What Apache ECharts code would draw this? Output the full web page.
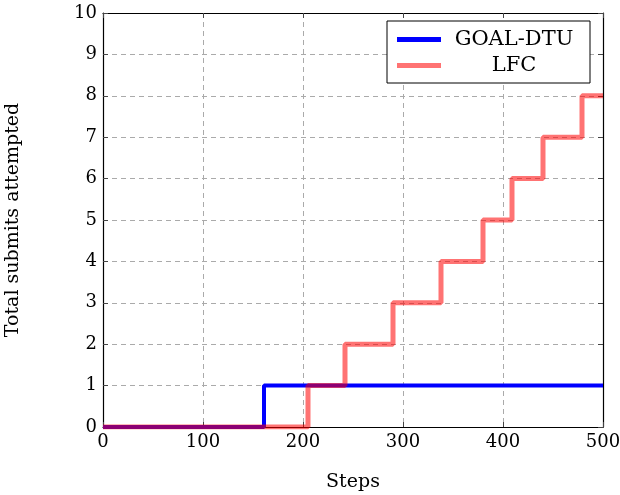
<!DOCTYPE html>
<html><head><meta charset="utf-8">
<script src="https://cdn.jsdelivr.net/npm/echarts@6/dist/echarts.min.js"></script>
<style>html,body{margin:0;padding:0;background:#fff}#c{width:620px;height:495px}</style>
</head><body><div id="c"></div>
<script>
const goalSteps = [0, 161, 500];
const goalValues = [0, 1, 1];
const lfcSteps = [0, 205, 242, 290, 338, 380, 409, 440, 479, 500];
const lfcValues = [0, 1, 2, 3, 4, 5, 6, 7, 8, 8];
const seriesNames = ['GOAL-DTU', 'LFC'];

const font = 'DejaVu Serif';
const toPairs = (xs, ys) => xs.map((x, i) => [x, ys[i]]);
const chart = echarts.init(document.getElementById('c'), null, {renderer: 'canvas'});
const gridLine = {show: true, lineStyle: {color: '#aaaaaa', type: [5, 4], width: 1}};
const frameLine = {show: true, onZero: false, lineStyle: {color: '#000', width: 1.2}};
const tick = {show: true, inside: true, length: 5, lineStyle: {color: '#444'}};
chart.setOption({
  animation: false,
  backgroundColor: '#fff',
  grid: {left: 103, right: 17, top: 13, bottom: 68, containLabel: false, outerBoundsMode: 'none'},
  legend: {
    data: seriesNames,
    orient: 'vertical',
    left: 387, top: 21,
    backgroundColor: '#fff',
    borderColor: '#000', borderWidth: 1,
    padding: [8, 8, 7, 10],
    itemGap: 5,
    itemWidth: 44, itemHeight: 5,
    icon: 'rect',
    formatter: n => '{a|' + n + '}',
    textStyle: {rich: {a: {fontFamily: font, fontSize: 21, color: '#000', width: 136, align: 'center', lineHeight: 24}}}
  },
  xAxis: [{
    type: 'value', min: 0, max: 500, interval: 100,
    name: 'Steps', nameLocation: 'middle', nameGap: 46,
    nameTextStyle: {fontFamily: font, fontSize: 19, color: '#000'},
    axisLine: frameLine, axisTick: tick,
    axisLabel: {fontFamily: font, fontSize: 18, color: '#000', margin: 6},
    splitLine: gridLine
  }, {
    type: 'value', min: 0, max: 500, interval: 100, position: 'top',
    axisLine: frameLine, axisTick: tick,
    axisLabel: {show: false}, splitLine: {show: false}
  }],
  yAxis: [{
    type: 'value', min: 0, max: 10, interval: 1,
    name: 'Total submits attempted', nameLocation: 'middle', nameGap: 80,
    nameTextStyle: {fontFamily: font, fontSize: 19, color: '#000'},
    axisLine: frameLine, axisTick: tick,
    axisLabel: {fontFamily: font, fontSize: 18, color: '#000', margin: 6},
    splitLine: gridLine
  }, {
    type: 'value', min: 0, max: 10, interval: 1, position: 'right',
    axisLine: frameLine, axisTick: tick,
    axisLabel: {show: false}, splitLine: {show: false}
  }],
  series: [{
    name: seriesNames[0], type: 'line', step: 'end', showSymbol: false, symbol: 'none',
    data: toPairs(goalSteps, goalValues),
    lineStyle: {color: '#0000ff', width: 4}, itemStyle: {color: '#0000ff'}, z: 3
  }, {
    name: seriesNames[1], type: 'line', step: 'end', showSymbol: false, symbol: 'none',
    data: toPairs(lfcSteps, lfcValues),
    lineStyle: {color: 'rgba(255,0,0,0.55)', width: 5}, itemStyle: {color: 'rgba(255,0,0,0.55)'}, z: 4
  }]
});
</script></body></html>
